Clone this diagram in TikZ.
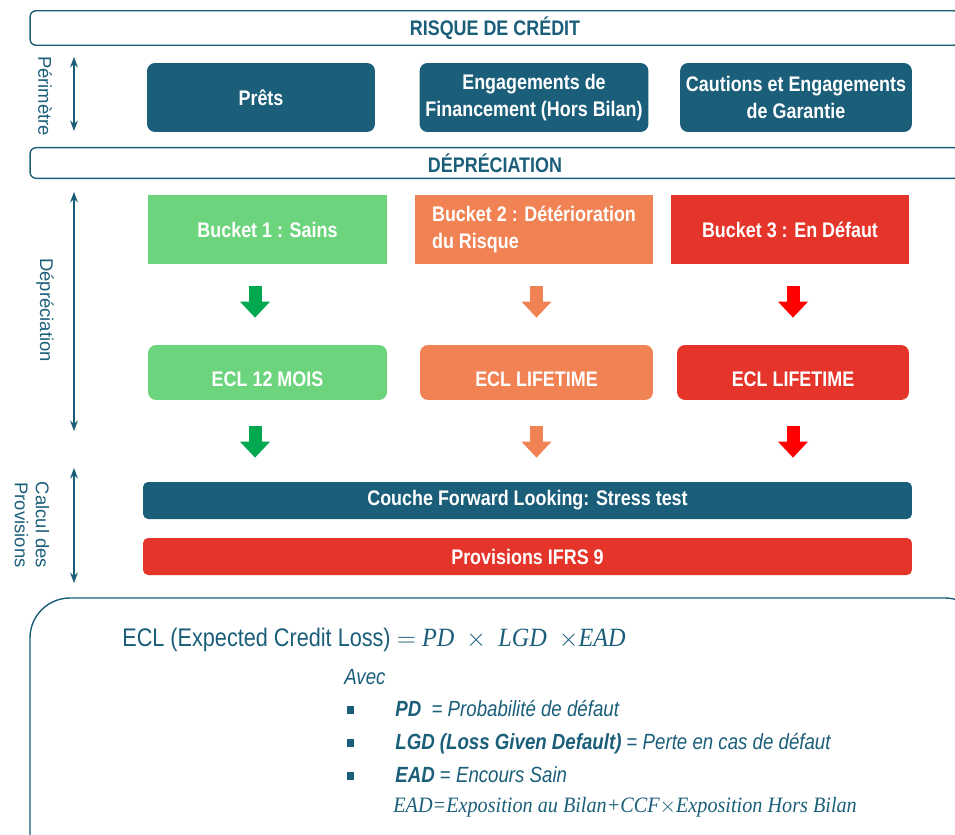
\documentclass[tikz,border=0pt]{standalone}
\usepackage{fontspec}
\setmainfont{Liberation Sans}[FakeStretch=0.85]
\newfontfamily\widesans{Liberation Sans}
\newfontfamily\seriffam{Liberation Serif}[FakeStretch=0.92]
\newcommand\serifit{\seriffam\itshape}
\usetikzlibrary{arrows.meta}

\definecolor{bleu}{RGB}{26,94,122}
\definecolor{vert}{RGB}{109,212,126}
\definecolor{vertfonce}{RGB}{0,168,80}
\definecolor{orange}{RGB}{240,130,84}
\definecolor{rouge}{RGB}{229,53,43}
\definecolor{rougevif}{RGB}{255,0,0}

\newcommand\boxfont{\bfseries\fontsize{12}{15}\selectfont}

\begin{document}
\begin{tikzpicture}[x=0.02cm, y=-0.02cm,
    bar/.style={draw=bleu, line width=0.8pt, rounded corners=0.12cm, minimum width=18.6cm,
      minimum height=0.6cm, text=bleu, font=\boxfont},
    perim/.style={fill=bleu, rounded corners=0.16cm, minimum width=4.56cm, minimum height=1.38cm,
      text=white, align=center, font=\boxfont},
    bucket/.style={minimum width=4.77cm, minimum height=1.38cm, text=white, font=\boxfont},
    ecl/.style={rounded corners=0.16cm, minimum height=1.1cm, text height=0.63cm, text depth=0.05cm,
      text=white, font=\boxfont},
    bande/.style={rounded corners=0.1cm, minimum width=15.38cm, minimum height=0.74cm,
      text=white, font=\boxfont},
    fleche/.style={line width=0.26cm, -{Triangle[length=0.32cm, width=0.58cm]},
      shorten <=0.44cm, shorten >=0.54cm},
    axe/.style={draw=bleu, line width=0.7pt, {Stealth[length=6pt,width=4.5pt]}-{Stealth[length=6pt,width=4.5pt]}},
    legende/.style={rotate=-90, text=bleu, align=center, font=\widesans\fontsize{10.5}{12}\selectfont},
    texte/.style={anchor=base west, inner sep=0, text=bleu, font=\fontsize{12.5}{14}\selectfont},
    puce/.style={fill=bleu, minimum width=0.14cm, minimum height=0.16cm, inner sep=0}
  ]
  \clip (0,0) rectangle (955,834);

  % bandeaux
  \node[bar] (risque) at (495,28) {RISQUE DE CRÉDIT};
  \node[bar] (depr) at (495,163) {DÉPRÉCIATION};

  % perimetre
  \node[perim] (prets) at (261,97.5) {Prêts};
  \node[perim] (engag) at (534,97.5) {Engagements de\\Financement (Hors Bilan)};
  \node[perim] (caution) at (796,97.5) {Cautions et Engagements\\de Garantie};

  % buckets
  \node[bucket, fill=vert] (b1) at (267.5,229.5) {Bucket 1 : Sains};
  \node[bucket, fill=orange, align=left] (b2) at (534,229.5) {Bucket 2 : Détérioration\\du Risque};
  \node[bucket, fill=rouge] (b3) at (790,229.5) {Bucket 3 : En Défaut};

  \node[ecl, fill=vert, minimum width=4.78cm] (e1) at (267.5,372.5) {ECL 12 MOIS};
  \node[ecl, fill=orange, minimum width=4.66cm] (e2) at (536.5,372.5) {ECL LIFETIME};
  \node[ecl, fill=rouge, minimum width=4.64cm] (e3) at (793,372.5) {ECL LIFETIME};

  \node[bande, fill=bleu] (fwd) at (527.5,500.5) {Couche Forward Looking: Stress test};
  \node[bande, fill=rouge] (ifrs) at (527.5,556.5) {Provisions IFRS 9};

  \draw[fleche, vertfonce] ([xshift=-0.25cm]b1.south) -- ([xshift=-0.25cm]b1.south |- e1.north);
  \draw[fleche, orange] (b2.south -| e2.north) -- (e2.north);
  \draw[fleche, rougevif] (b3.south -| e3.north) -- (e3.north);
  \begin{scope}[fleche/.append style={shorten <=0.52cm, shorten >=0.48cm}]
    \draw[fleche, vertfonce] ([xshift=-0.25cm]e1.south) -- ([xshift=-0.25cm]e1.south |- fwd.north);
    \draw[fleche, orange] (e2.south) -- (e2.south |- fwd.north);
    \draw[fleche, rougevif] (e3.south) -- (e3.south |- fwd.north);
  \end{scope}

  % axes de gauche
  \coordinate (p0) at (74,57);  \coordinate (p1) at (74,131);
  \coordinate (d0) at (74,192); \coordinate (d1) at (74,431);
  \coordinate (c0) at (74,468); \coordinate (c1) at (74,583);
  \draw[axe] (p0) -- (p1);
  \draw[axe] (d0) -- (d1);
  \draw[axe] (c0) -- (c1);
  \node[legende] (lperim) at (45,96) {Périmètre};
  \node[legende] (ldepr) at (45,310) {Dépréciation};
  \node[legende] (lcalc) at (32,525) {Calcul des\\Provisions};

  % formule
  \draw[bleu, line width=0.8pt, rounded corners=0.8cm] (30,598) rectangle (985,880);
  \node[texte, font=\fontsize{14.5}{16}\selectfont] (ecl) at (122,646)
    {ECL (Expected Credit Loss) $=$ {\serifit\fontsize{15}{16}\selectfont PD\ \ $\times$\ \ LGD\ \ $\times$EAD}};
  \node[texte, font=\itshape\fontsize{12.5}{14}\selectfont] (avec) at (344,684) {Avec};
  \node[puce] (q1) at (350,710) {};
  \node[puce] (q2) at (350,743) {};
  \node[puce] (q3) at (350,776) {};
  \node[texte] (pd) at (395,716) {\textbf{\textit{PD}}\ \ \textit{= Probabilité de défaut}};
  \node[texte] (lgd) at (395,749) {\textbf{\textit{LGD (Loss Given Default)}} = \textit{Perte en cas de défaut}};
  \node[texte] (ead) at (395,782) {\textbf{\textit{EAD}} = \textit{Encours Sain}};
  \node[texte, font=\serifit\fontsize{12.5}{14}\selectfont] (expo) at (393,812)
    {EAD{=}Exposition au Bilan{+}CCF{$\times$}Exposition Hors Bilan};
\end{tikzpicture}
\end{document}
